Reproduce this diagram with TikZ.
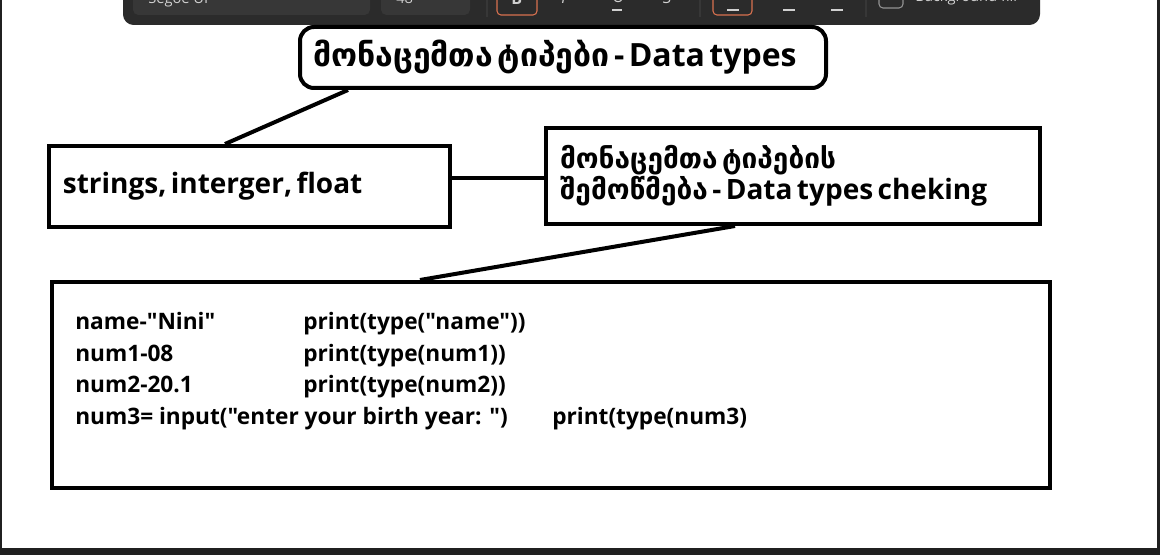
\documentclass[tikz,border=0pt]{standalone}
\usepackage{fontspec}
\setmainfont{Open Sans}[Ligatures=TeXOff]
\newfontfamily\geofont{DejaVu Sans}
\usetikzlibrary{positioning}
\definecolor{barcol}{HTML}{2B2B2B}
\definecolor{fieldcol}{HTML}{373737}
\definecolor{framecol}{HTML}{202020}
\definecolor{btncol}{HTML}{D8714F}
\definecolor{icocol}{HTML}{D0D0D0}
\begin{document}
\begin{tikzpicture}[x=0.75pt,y=-0.75pt,
  box/.style={draw=black,line width=3pt,inner sep=0pt},
  link/.style={draw=black,line width=3pt},
  codetext/.style={anchor=base west,inner sep=0pt,font=\bfseries\fontsize{17}{20}\selectfont},
  bartext/.style={anchor=base west,inner sep=0pt,text=icocol,font=\fontsize{11}{13}\selectfont}]
\clip (0,0) rectangle (1160,555);
\fill[white] (0,0) rectangle (1160,555);
% window frame
\fill[framecol] (0,0) rectangle (2,555);
\fill[framecol] (1157,0) rectangle (1160,555);
\fill[framecol] (0,548) rectangle (1160,555);
% toolbar
\fill[barcol,rounded corners=8] (123,-20) rectangle (1040,25);
\fill[fieldcol,rounded corners=4] (133,-10) rectangle (370,15);
\fill[fieldcol,rounded corners=4] (381,-10) rectangle (470,15);
\draw[btncol,line width=0.8pt,rounded corners=3] (497,-10) rectangle (537,15);
\draw[btncol,line width=0.8pt,rounded corners=3] (713,-10) rectangle (752,15);
\draw[fieldcol,line width=1pt] (487,-10) -- (487,17) (700,-10) -- (700,17) (866,-10) -- (866,17);
\draw[icocol!70!black,line width=0.8pt,rounded corners=3] (879,-10) rectangle (903,8);
\node[bartext] (fontname) at (148,4) {Segoe UI};
\node[bartext] (fontsize) at (396,4) {48};
\node[bartext] (bgfill) at (915,2) {Background fill};
\node[bartext,font=\bfseries\fontsize{12}{13}\selectfont] (bold) at (511,5) {B};
\node[bartext,font=\itshape\fontsize{12}{13}\selectfont] (ital) at (561,4) {I};
\node[bartext,font=\fontsize{12}{13}\selectfont] (under) at (612,3) {U};
\node[bartext,font=\fontsize{12}{13}\selectfont] (strike) at (662,4) {S};
\draw[icocol,line width=1pt] (727,10) -- (739,10) (783,10) -- (795,10) (831,10) -- (843,10)
  (612,10) -- (622,10);
% boxes
\node[box,rounded corners=10.5pt,minimum width=394.5pt,minimum height=45.75pt,text width=375pt,align=left] (title) at (563,57.5)
  {\bfseries\fontsize{24}{27}\selectfont{\geofont მონაცემთა ტიპები} - Data types};
\node[box,minimum width=300.75pt,minimum height=60.75pt,text width=280pt,align=left] (kinds) at (249.5,186.5)
  {\bfseries\fontsize{21}{24}\selectfont strings, interger, float};
\node[box,minimum width=370.5pt,minimum height=72pt,text width=349.5pt,align=left] (check) at (793,176)
  {\bfseries\fontsize{21}{24.75}\selectfont{\geofont მონაცემთა ტიპების}\\{\geofont შემოწმება} - Data types cheking};
\node[box,minimum width=748.5pt,minimum height=154.5pt] (code) at (551,385) {};
% code lines
\node[codetext] (n1) at (75,330) {name-"Nini"};
\node[codetext] (n2) at (75,361.5) {num1-08};
\node[codetext] (n3) at (75,393) {num2-20.1};
\node[codetext] (n4) at (75,424.5) {num3= input("enter your birth year: ")};
\node[codetext] (p1) at (303,330) {print(type("name"))};
\node[codetext] (p2) at (303,361.5) {print(type(num1))};
\node[codetext] (p3) at (303,393) {print(type(num2))};
\node[codetext] (p4) at (552,424.5) {print(type(num3)};
% connectors
\draw[link] (title.south west) ++(50,0) coordinate (t1) -- (kinds.north -| 225,0);
\draw[link] (kinds.east |- 0,178) -- (check.west |- 0,178);
\draw[link] (check.south -| 735,0) -- (code.north -| 420,0);
\end{tikzpicture}
\end{document}
